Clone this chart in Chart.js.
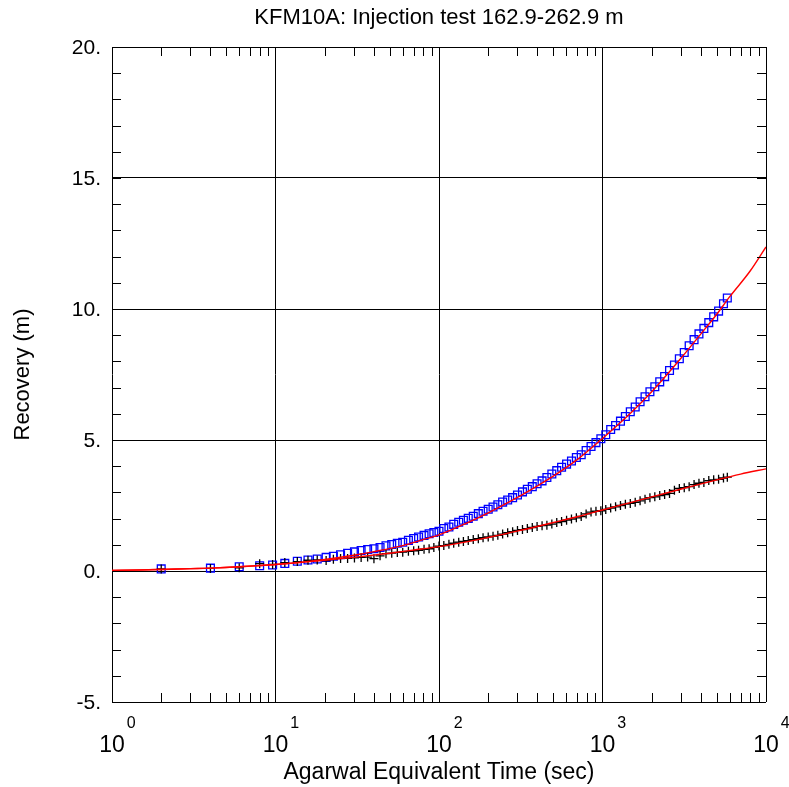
<!DOCTYPE html>
<html>
<head>
<meta charset="utf-8">
<script src="https://cdn.jsdelivr.net/npm/chart.js@4.4.1/dist/chart.umd.min.js"></script>
<style>
  html, body { margin: 0; padding: 0; background: #fff; }
  #wrap { width: 789px; height: 787px; position: relative; }
</style>
</head>
<body>
<div id="wrap"><canvas id="recoveryChart" width="789" height="787"></canvas></div>
<script>
// measured points (Agarwal equivalent time, sec)
const timeSec = [2, 4, 6, 8, 9.6, 11.4, 13.6, 15.8, 18, 20.4, 22.6, 25, 27.6, 30.4, 33.4, 36.6, 40, 43.6, 47.4, 51.4,
    55.6, 60, 65, 70, 75, 81, 87, 93, 100, 107, 115, 123, 132, 141, 151, 162, 174, 186, 200, 214,
    229, 245, 263, 282, 302, 324, 347, 372, 398, 427, 457, 490, 525, 562, 603, 646, 692, 741, 794, 851,
    912, 977, 1047, 1122, 1202, 1288, 1380, 1479, 1585, 1698, 1820, 1950, 2089, 2239, 2399, 2570, 2754, 2951, 3162, 3388,
    3631, 3890, 4169, 4467, 4786, 5129, 5495, 5800];

// blue squares
const recoverySquares = [0.08, 0.11, 0.16, 0.20, 0.23, 0.29, 0.37, 0.42, 0.46, 0.52, 0.56, 0.62, 0.68, 0.73, 0.78, 0.82, 0.85, 0.90, 0.96, 1.01,
    1.06, 1.10, 1.17, 1.24, 1.30, 1.36, 1.42, 1.47, 1.52, 1.62, 1.68, 1.78, 1.86, 1.94, 2.01, 2.09, 2.19, 2.28, 2.36, 2.44,
    2.53, 2.63, 2.71, 2.80, 2.90, 3.02, 3.12, 3.22, 3.33, 3.44, 3.57, 3.70, 3.83, 3.96, 4.08, 4.20, 4.33, 4.44, 4.60, 4.75,
    4.90, 5.05, 5.20, 5.40, 5.55, 5.72, 5.90, 6.08, 6.26, 6.46, 6.65, 6.84, 7.03, 7.22, 7.42, 7.65, 7.86, 8.10, 8.34, 8.60,
    8.83, 9.05, 9.26, 9.48, 9.70, 9.92, 10.20, 10.42];

// black crosses
const recoveryCrosses = [0.08, 0.10, 0.12, 0.28, 0.25, 0.32, 0.36, 0.41, 0.42, 0.40, 0.45, 0.48, 0.48, 0.50, 0.52, 0.53, 0.47, 0.58, 0.66, 0.68,
    0.71, 0.72, 0.75, 0.77, 0.79, 0.83, 0.85, 0.90, 0.95, 0.97, 1.02, 1.06, 1.10, 1.13, 1.16, 1.20, 1.23, 1.27, 1.30, 1.33,
    1.36, 1.41, 1.46, 1.50, 1.55, 1.58, 1.62, 1.66, 1.70, 1.73, 1.75, 1.79, 1.85, 1.89, 1.94, 1.98, 2.03, 2.08, 2.18, 2.25,
    2.28, 2.30, 2.35, 2.40, 2.45, 2.50, 2.55, 2.58, 2.62, 2.68, 2.74, 2.80, 2.83, 2.88, 2.92, 2.96, 3.08, 3.15, 3.18, 3.22,
    3.30, 3.35, 3.38, 3.45, 3.48, 3.50, 3.55, 3.58];

// fitted curves (red)
const fitTimeSquares = [1, 1.5, 2, 3, 4, 6, 8, 10, 15, 20, 30, 40, 60, 80, 100, 150, 200, 300, 400, 500,
    700, 1000, 1500, 2000, 3000, 4000, 5000, 6000, 8000, 10000];
const fitSquares = [0.02, 0.04, 0.06, 0.09, 0.11, 0.16, 0.21, 0.25, 0.35, 0.44, 0.60, 0.74, 0.97, 1.20, 1.38, 1.85, 2.22, 2.80, 3.25, 3.62,
    4.25, 5.06, 6.05, 6.84, 8.10, 9.05, 9.80, 10.47, 11.45, 12.37];
const fitTimeCrosses = [1, 2, 4, 6, 10, 15, 20, 30, 50, 70, 100, 150, 200, 300, 500, 700, 1000, 1500, 2000, 3000,
    5000, 7000, 10000];
const fitCrosses = [0.02, 0.06, 0.11, 0.16, 0.25, 0.34, 0.41, 0.52, 0.68, 0.80, 0.93, 1.12, 1.28, 1.52, 1.85, 2.07, 2.33, 2.62, 2.83, 3.12,
    3.48, 3.70, 3.90];

const xDecades = [0, 1, 2, 3, 4];
const yTicks = [-5, 0, 5, 10, 15, 20];

const titleText = 'KFM10A: Injection test 162.9-262.9 m';
const xTitle = 'Agarwal Equivalent Time (sec)';
const yTitle = 'Recovery (m)';

const FONT = '"Liberation Sans", Arial, sans-serif';

function toPoints(xs, ys) {
    return xs.map((x, i) => ({ x: x, y: ys[i] }));
}

// minor ticks, tick labels and titles
const decorPlugin = {
    id: 'decor',
    afterDraw(chart) {
        const ctx = chart.ctx;
        const area = chart.chartArea;
        const xs = chart.scales.x;
        const ys = chart.scales.y;
        const tickLen = 9;

        ctx.save();
        ctx.strokeStyle = '#000';
        ctx.lineWidth = 1;
        ctx.beginPath();
        for (let d = 0; d < 4; d++) {
            for (let m = 2; m <= 9; m++) {
                const px = Math.round(xs.getPixelForValue(m * Math.pow(10, d))) + 0.5;
                ctx.moveTo(px, area.bottom);
                ctx.lineTo(px, area.bottom - tickLen);
                ctx.moveTo(px, area.top);
                ctx.lineTo(px, area.top + tickLen);
            }
        }
        for (let v = -5; v <= 20; v++) {
            const py = Math.round(ys.getPixelForValue(v)) + 0.5;
            ctx.moveTo(area.left, py);
            ctx.lineTo(area.left + tickLen, py);
            ctx.moveTo(area.right, py);
            ctx.lineTo(area.right - tickLen, py);
        }
        ctx.stroke();

        ctx.fillStyle = '#000';

        // y tick labels
        ctx.font = '21px ' + FONT;
        ctx.textAlign = 'right';
        ctx.textBaseline = 'middle';
        yTicks.forEach(v => {
            ctx.fillText(v + '.', area.left - 11, ys.getPixelForValue(v) + 1);
        });

        // x tick labels 10^n
        xDecades.forEach(n => {
            const px = xs.getPixelForValue(Math.pow(10, n));
            ctx.font = '23px ' + FONT;
            ctx.textAlign = 'center';
            ctx.textBaseline = 'middle';
            ctx.fillText('10', px, area.bottom + 44);
            const w = ctx.measureText('10').width;
            ctx.font = '16px ' + FONT;
            ctx.textAlign = 'left';
            ctx.fillText(String(n), px + w / 2 + 2, area.bottom + 22);
        });

        // titles
        ctx.textAlign = 'center';
        ctx.textBaseline = 'middle';
        ctx.font = '22px ' + FONT;
        ctx.fillText(titleText, (area.left + area.right) / 2, 18);
        ctx.font = '23px ' + FONT;
        ctx.fillText(xTitle, (area.left + area.right) / 2, 773);

        ctx.font = '22px ' + FONT;
        ctx.translate(23, (area.top + area.bottom) / 2);
        ctx.rotate(-Math.PI / 2);
        ctx.fillText(yTitle, 0, 0);
        ctx.restore();
    }
};

const ctx = document.getElementById('recoveryChart').getContext('2d');
new Chart(ctx, {
    type: 'scatter',
    data: {
        datasets: [
            {
                type: 'line',
                data: toPoints(fitTimeSquares, fitSquares),
                borderColor: '#ff0000',
                borderWidth: 1.4,
                pointRadius: 0,
                cubicInterpolationMode: 'monotone',
                fill: false
            },
            {
                type: 'line',
                data: toPoints(fitTimeCrosses, fitCrosses),
                borderColor: '#ff0000',
                borderWidth: 1.4,
                pointRadius: 0,
                cubicInterpolationMode: 'monotone',
                fill: false
            },
            {
                data: toPoints(timeSec, recoveryCrosses),
                pointStyle: 'cross',
                pointRadius: 4.5,
                borderColor: '#000',
                backgroundColor: '#000',
                pointBorderWidth: 1.3
            },
            {
                data: toPoints(timeSec, recoverySquares),
                pointStyle: 'rect',
                pointRadius: 5.5,
                borderColor: '#0000ff',
                backgroundColor: 'rgba(0,0,0,0)',
                pointBorderWidth: 1.3
            }
        ]
    },
    options: {
        responsive: false,
        animation: false,
        events: [],
        layout: {
            padding: { left: 112, right: 23, top: 47, bottom: 85 }
        },
        plugins: {
            legend: { display: false },
            tooltip: { enabled: false },
            title: { display: false }
        },
        scales: {
            x: {
                type: 'logarithmic',
                min: 1,
                max: 10000,
                afterBuildTicks: axis => {
                    axis.ticks = xDecades.map(n => ({ value: Math.pow(10, n) }));
                },
                ticks: { display: false },
                grid: { color: '#000', lineWidth: 1, drawTicks: false },
                border: { display: false }
            },
            y: {
                type: 'linear',
                min: -5,
                max: 20,
                afterBuildTicks: axis => {
                    axis.ticks = yTicks.map(v => ({ value: v }));
                },
                ticks: { display: false },
                grid: { color: '#000', lineWidth: 1, drawTicks: false },
                border: { display: false }
            }
        }
    },
    plugins: [decorPlugin]
});
</script>
</body>
</html>
